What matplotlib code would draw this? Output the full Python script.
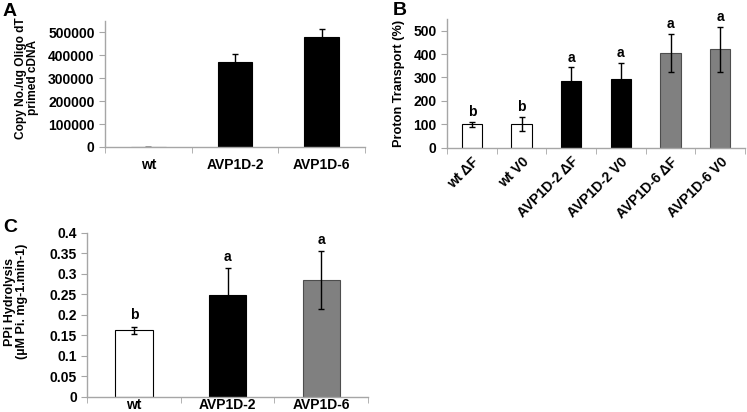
import matplotlib
matplotlib.use("Agg")
import matplotlib.pyplot as plt
import numpy as np

plt.rcParams['font.family'] = ['Liberation Sans', 'DejaVu Sans']
plt.rcParams['font.weight'] = 'bold'

# Panel A
a_cats = ["wt", "AVP1D-2", "AVP1D-6"]
a_vals = [1000, 373000, 478000]
a_errs = [0, 35000, 36000]

# Panel B
b_cats = ["wt \u0394F", "wt V0", "AVP1D-2 \u0394F", "AVP1D-2 V0", "AVP1D-6 \u0394F", "AVP1D-6 V0"]
b_vals = [100, 100, 285, 292, 405, 420]
b_errs = [10, 30, 58, 70, 80, 96]
b_letters = ["b", "b", "a", "a", "a", "a"]

# Panel C
c_cats = ["wt", "AVP1D-2", "AVP1D-6"]
c_vals = [0.162, 0.249, 0.285]
c_errs = [0.009, 0.064, 0.070]
c_letters = ["b", "a", "a"]

WHITE, BLACK, GRAY = "#ffffff", "#000000", "#808080"
SPINE = "#a6a6a6"

fig = plt.figure(figsize=(7.47, 4.12), dpi=100)

def style(ax, n, xsize):
    for s in ["top", "right"]:
        ax.spines[s].set_visible(False)
    for s in ["left", "bottom"]:
        ax.spines[s].set_color(SPINE)
        ax.spines[s].set_linewidth(1.0)
    ax.set_xlim(-0.5, n - 0.5)
    ax.set_xticks(np.arange(n))
    ax.set_xticks(np.arange(n + 1) - 0.5, minor=True)
    ax.tick_params(axis='x', which='major', length=0, pad=8, labelsize=xsize)
    ax.tick_params(axis='x', which='minor', length=4, color=SPINE, direction='out')
    ax.tick_params(axis='y', which='major', length=4, color=SPINE, direction='out', labelsize=10)
    for lab in ax.get_yticklabels() + ax.get_xticklabels():
        lab.set_fontweight('bold')

ekw = dict(ecolor='black', elinewidth=1.0, capsize=2.5, capthick=1.0)

# A
axA = fig.add_axes([105/747, 1-147/412, 260/747, 126/412])
xa = np.arange(len(a_cats))
axA.bar(xa, a_vals, width=0.4, color=[WHITE, BLACK, BLACK], edgecolor='black', linewidth=0.8,
        yerr=a_errs, error_kw=ekw)
axA.set_ylim(0, 550000)
axA.set_yticks(np.arange(0, 500001, 100000))
axA.set_xticklabels(a_cats)
style(axA, 3, 10)
axA.tick_params(axis='x', which='major', pad=8)
axA.set_ylabel("Copy No./ug Oligo dT\nprimed cDNA", fontsize=8.6, fontweight='bold', linespacing=1.0)
axA.yaxis.set_label_coords(-0.255, 0.55)
fig.text(3/747, 1-3/412, "A", fontsize=14, fontweight='bold', va='top')

# B
axB = fig.add_axes([447/747, 1-147.7/412, 298/747, 128.7/412])
xb = np.arange(len(b_cats))
axB.bar(xb, b_vals, width=0.41, color=[WHITE, WHITE, BLACK, BLACK, GRAY, GRAY],
        edgecolor=['black', 'black', 'black', 'black', '#4d4d4d', '#4d4d4d'], linewidth=0.8,
        yerr=b_errs, error_kw=ekw)
for x, v, e, l in zip(xb, b_vals, b_errs, b_letters):
    axB.text(x, v + e + 12, l, ha='center', va='bottom', fontsize=10, fontweight='bold')
axB.set_ylim(0, 550)
axB.set_yticks(np.arange(0, 501, 100))
axB.set_xticklabels(b_cats, rotation=45, ha='right', rotation_mode='anchor')
style(axB, 6, 10)
axB.tick_params(axis='x', which='major', pad=5)
axB.set_ylabel("Proton Transport (%)", fontsize=9.2, fontweight='bold', labelpad=6)
fig.text(393/747, 1-2/412, "B", fontsize=14, fontweight='bold', va='top')

# C
axC = fig.add_axes([87.3/747, 1-396.7/412, 280.7/747, 164/412])
xc = np.arange(len(c_cats))
axC.bar(xc, c_vals, width=0.4, color=[WHITE, BLACK, GRAY],
        edgecolor=['black', 'black', '#4d4d4d'], linewidth=0.8,
        yerr=c_errs, error_kw=ekw)
for x, v, e, l in zip(xc, c_vals, c_errs, c_letters):
    axC.text(x, v + e + 0.01, l, ha='center', va='bottom', fontsize=10, fontweight='bold')
axC.set_ylim(0, 0.4)
axC.set_yticks(np.arange(0, 0.4001, 0.05))
axC.set_yticklabels(["0", "0.05", "0.1", "0.15", "0.2", "0.25", "0.3", "0.35", "0.4"])
axC.set_xticklabels(c_cats)
style(axC, 3, 10)
axC.tick_params(axis='x', which='major', pad=1)
axC.set_ylabel("PPi Hydrolysis\n(\u00b5M Pi. mg-1.min-1)", fontsize=9.0, fontweight='bold', linespacing=1.0)
axC.yaxis.set_label_coords(-0.212, 0.58)
fig.text(3/747, 1-219/412, "C", fontsize=14, fontweight='bold', va='top')

fig.savefig("out.png", dpi=100)
